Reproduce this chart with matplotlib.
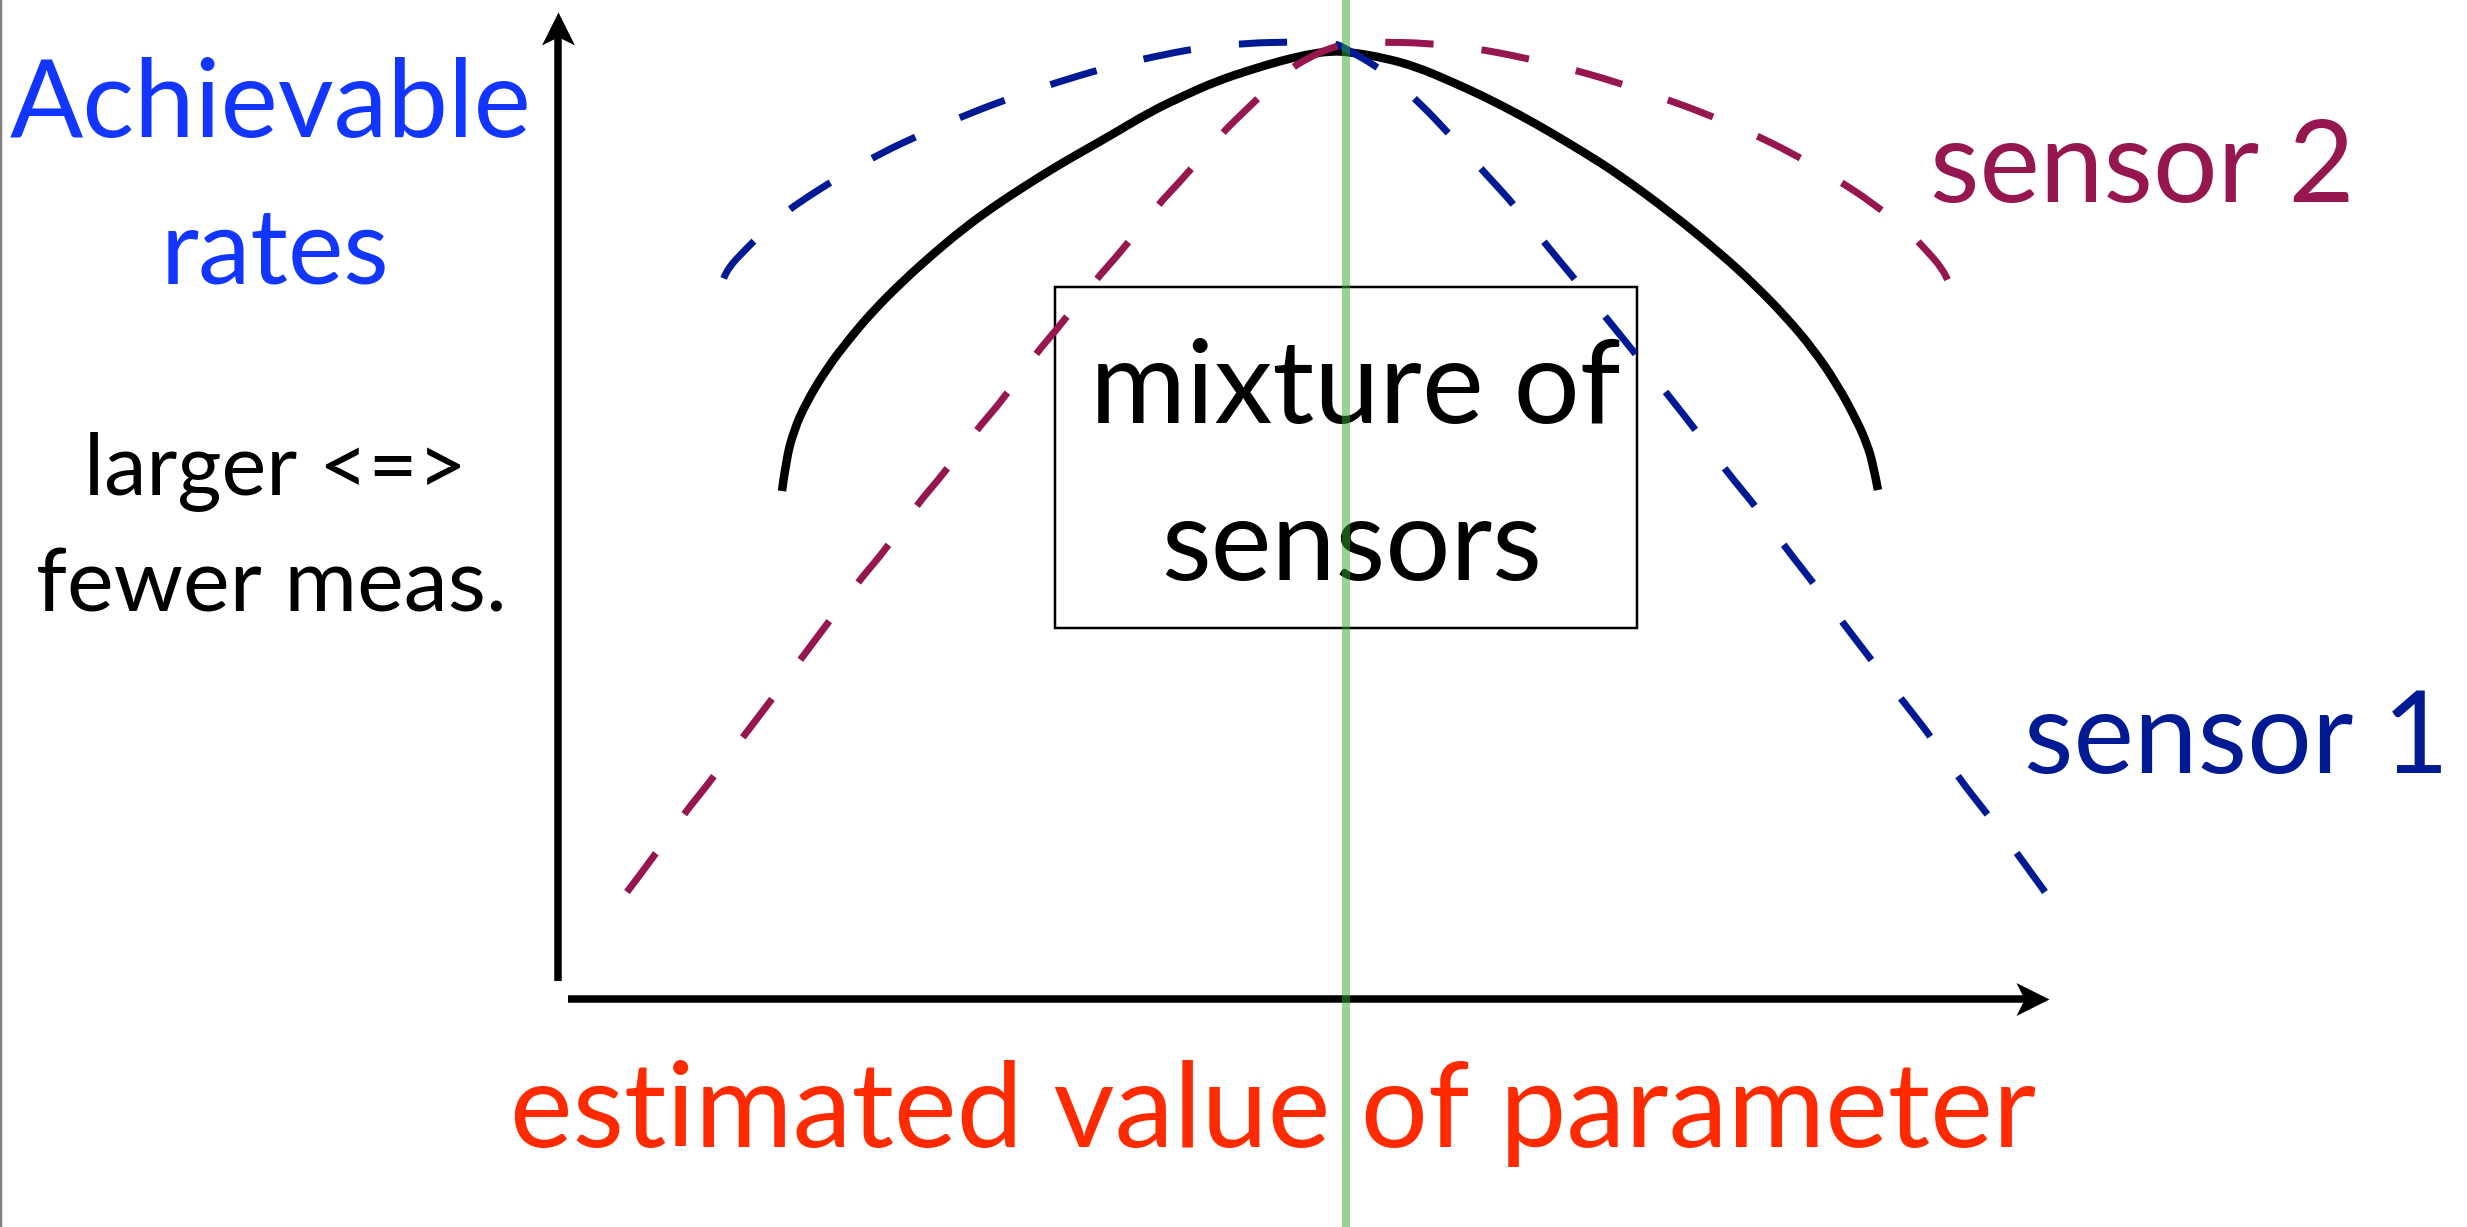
import matplotlib.pyplot as plt
from matplotlib.patches import Rectangle, PathPatch
from matplotlib.path import Path

# everything is in pixels of the original slide, y grows downwards
W, H = 2467, 1227
PX = 0.72  # points per pixel at dpi 100

# curves (left to right)
mixture_x = [782, 786, 794, 806, 827, 850, 873, 903, 933, 963, 993, 1025, 1057, 1085, 1113,
             1150, 1183, 1217, 1250, 1280, 1305, 1330, 1350, 1385, 1417, 1450, 1483, 1520,
             1550, 1585, 1618, 1670, 1720, 1755, 1787, 1813, 1837, 1857, 1867, 1873, 1878]
mixture_y = [491, 460, 430, 403, 368, 338, 311, 281, 254, 229, 207, 186, 166, 150, 134,
             112, 96, 81, 70, 61, 55, 51, 52, 58, 67, 81, 96, 115,
             132, 153, 174, 212, 253, 285, 318, 349, 384, 421, 444, 464, 490]

sensor1_x = [715, 717, 721, 728, 745, 762, 780, 798, 839, 881, 924, 968, 1013, 1058, 1105,
             1152, 1198, 1247, 1294, 1320, 1336, 1343, 1383, 1420, 1452, 1485, 1517, 1548,
             1578, 1608, 1638, 1668, 1698, 1727, 1757, 1785, 1815, 1843, 1873, 1902, 1932,
             1958, 1988, 2017, 2045]
sensor1_y = [317, 300, 285, 268, 250, 233, 217, 203, 177, 153, 133, 114, 97, 82, 68,
             57, 48, 43, 42, 42, 44, 47, 70, 103, 137, 173, 208, 247,
             283, 320, 357, 395, 433, 472, 508, 547, 585, 623, 662, 700, 738,
             777, 815, 853, 892]

sensor2_x = [627, 655, 683, 713, 742, 770, 800, 828, 857, 887, 915, 945, 974, 1005, 1033,
             1063, 1093, 1125, 1155, 1188, 1218, 1253, 1288, 1310, 1330, 1350, 1378, 1426,
             1473, 1521, 1567, 1613, 1660, 1704, 1749, 1792, 1833, 1873, 1910, 1926, 1942,
             1950, 1955, 1957]
sensor2_y = [892, 855, 815, 778, 738, 702, 660, 623, 583, 548, 507, 472, 433, 397, 357,
             322, 283, 247, 208, 173, 137, 103, 70, 57, 48, 43, 42, 43,
             48, 57, 68, 81, 97, 113, 132, 153, 177, 203, 233, 250, 268,
             285, 300, 317]

# text: (string, centre x, baseline y, width in px, colour)
labels = [
    ('Achievable', 271, 137, 522, '#1236ff'),
    ('rates', 275, 283, 229, '#1236ff'),
    ('larger <=>', 275, 494, 383, 'black'),
    ('fewer meas.', 271, 612, 471, 'black'),
    ('mixture of', 1355, 423, 530, 'black'),
    ('sensors', 1352, 580, 381, 'black'),
    ('sensor 2', 2142, 202, 425, '#961650'),
    ('sensor 1', 2237, 773, 425, '#001a94'),
    ('estimated value of parameter', 1273, 1147, 1526, '#ff2a00'),
]

box = (1055, 287, 1637, 628)
y_axis_x, y_axis_bottom, y_axis_tip = 558, 981, 12
x_axis_y, x_axis_left, x_axis_tip = 999, 568, 2049
optimum_x = 1346


def smooth_path(xs, ys):
    # quadratic bezier through the midpoints, the read points act as control points
    pts = list(zip(xs, ys))
    verts, codes = [pts[0]], [Path.MOVETO]
    for i in range(1, len(pts) - 1):
        if i == len(pts) - 2:
            end = pts[-1]
        else:
            end = ((pts[i][0] + pts[i + 1][0]) / 2, (pts[i][1] + pts[i + 1][1]) / 2)
        verts += [pts[i], end]
        codes += [Path.CURVE3, Path.CURVE3]
    return Path(verts, codes)


# notched arrow heads, tip at the origin
head_right = Path([(0, 0), (-1, 0.5), (-0.75, 0), (-1, -0.5), (0, 0)],
                  [Path.MOVETO, Path.LINETO, Path.LINETO, Path.LINETO, Path.CLOSEPOLY])
head_up = Path([(0, 0), (0.5, -1), (0, -0.75), (-0.5, -1), (0, 0)],
               [Path.MOVETO, Path.LINETO, Path.LINETO, Path.LINETO, Path.CLOSEPOLY])

fig = plt.figure(figsize=(W / 100, H / 100), dpi=100)
ax = fig.add_axes([0, 0, 1, 1])
ax.set_xlim(0, W)
ax.set_ylim(H, 0)
ax.axis('off')

ax.axvline(1, color='#808080', lw=2.5 * PX)

# axes with arrow heads
ax.plot([y_axis_x, y_axis_x], [y_axis_bottom, y_axis_tip + 20], color='black',
        lw=7.5 * PX, solid_capstyle='butt')
ax.plot([y_axis_x], [y_axis_tip], marker=head_up, ms=66 * PX, color='black', mew=0)
ax.plot([x_axis_left, x_axis_tip - 20], [x_axis_y, x_axis_y], color='black',
        lw=7.5 * PX, solid_capstyle='butt')
ax.plot([x_axis_tip], [x_axis_y], marker=head_right, ms=66 * PX, color='black', mew=0)

# the box around "mixture of sensors"
ax.add_patch(Rectangle((box[0], box[1]), box[2] - box[0], box[3] - box[1],
                       fill=False, edgecolor='black', lw=2.5 * PX))

ax.add_patch(PathPatch(smooth_path(mixture_x, mixture_y), fill=False, edgecolor='black',
                       lw=8.5 * PX, capstyle='butt', joinstyle='round'))
ax.add_patch(PathPatch(smooth_path(sensor1_x[::-1], sensor1_y[::-1]), fill=False,
                       edgecolor='#001a94', lw=7 * PX, linestyle=(0, (6.9, 6.9)),
                       capstyle='butt'))
ax.add_patch(PathPatch(smooth_path(sensor2_x, sensor2_y), fill=False,
                       edgecolor='#961650', lw=7 * PX, linestyle=(0, (6.9, 6.9)),
                       capstyle='butt'))

renderer = fig.canvas.get_renderer()
for s, x, y, width, color in labels:
    t = ax.text(x, y, s, fontsize=50, family='Lato', color=color,
                ha='center', va='baseline')
    w = t.get_window_extent(renderer).width
    t.set_fontsize(50 * width / w)

# green marker of the true parameter, drawn over everything
ax.axvline(optimum_x, color='#2daa2d', alpha=0.5, lw=8 * PX, zorder=10)

fig.savefig('out.png', dpi=100)
